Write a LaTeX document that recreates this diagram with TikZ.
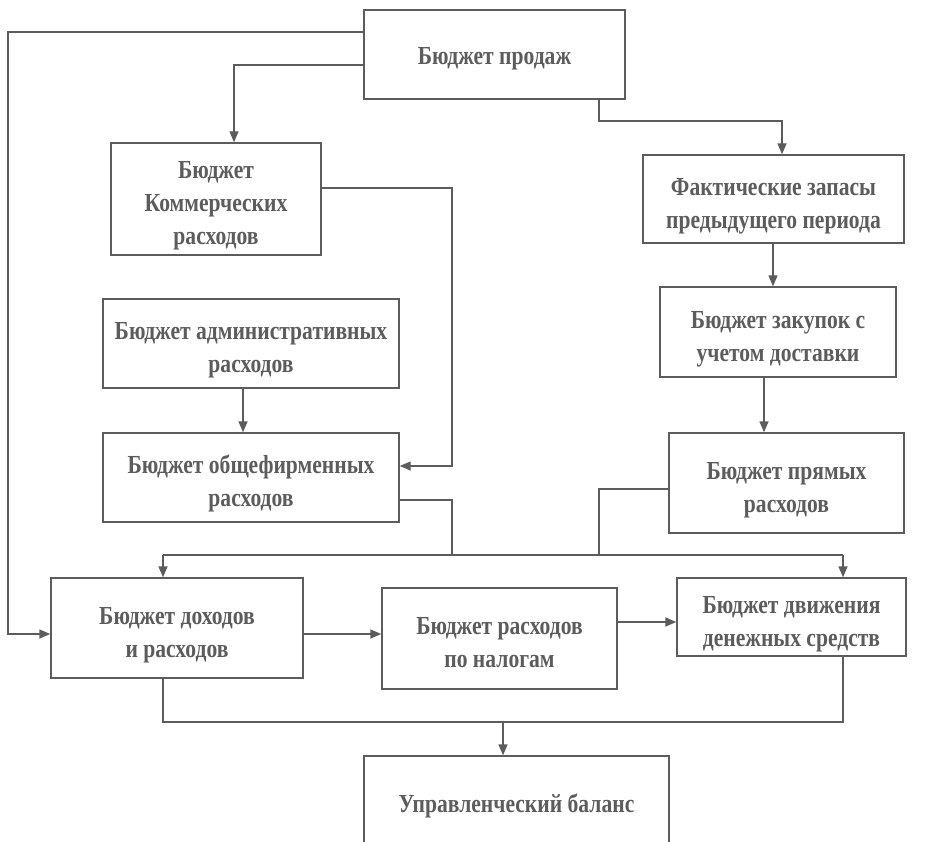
\documentclass[tikz,border=0pt]{standalone}
\usepackage{fontspec}
\setmainfont{Liberation Serif}[FakeStretch=0.83]
\usetikzlibrary{arrows.meta}
\definecolor{ink}{HTML}{5C5C5C}
% centred lines, lowered a little inside the block without changing its size
\newcommand{\blktext}[2][-6pt]{\raisebox{#1}[\height][\depth]{\begin{tabular}{@{}c@{}}#2\end{tabular}}}
\begin{document}
\begin{tikzpicture}[x=1pt,y=-1pt,
  blk/.style={draw=ink,line width=1.4pt,inner sep=0pt,
    text=ink,font=\fontsize{26}{33}\selectfont\bfseries},
  wire/.style={draw=ink,line width=1.4pt},
  arr/.style={wire,-{Triangle[length=11pt,width=9pt]}}]
\clip (0,0) rectangle (934,842);
% budget blocks
\node[blk,minimum width=261pt,minimum height=89pt] (sales) at (494.5,54.5) {\blktext[-3pt]{Бюджет продаж}};
\node[blk,minimum width=210pt,minimum height=112pt] (comm) at (216,199) {\blktext{Бюджет\\Коммерческих\\расходов}};
\node[blk,minimum width=296pt,minimum height=89pt] (admin) at (251,343.5) {\blktext{Бюджет административных\\расходов}};
\node[blk,minimum width=296pt,minimum height=89pt] (obshe) at (251,477.5) {\blktext{Бюджет общефирменных\\расходов}};
\node[blk,minimum width=261pt,minimum height=88pt] (fact) at (773.5,199) {\blktext{Фактические запасы\\предыдущего периода}};
\node[blk,minimum width=236pt,minimum height=90pt] (zak) at (778,332) {\blktext{Бюджет закупок с\\учетом доставки}};
\node[blk,minimum width=235pt,minimum height=100pt] (direct) at (786.5,483) {\blktext{Бюджет прямых\\расходов}};
\node[blk,minimum width=252pt,minimum height=100pt] (income) at (177,628) {\blktext{Бюджет доходов\\и расходов}};
\node[blk,minimum width=235pt,minimum height=101pt] (tax) at (499.5,638.5) {\blktext{Бюджет расходов\\по налогам}};
\node[blk,minimum width=229pt,minimum height=78pt] (dds) at (791.5,617) {\blktext{Бюджет движения\\денежных средств}};
\node[blk,minimum width=305pt,minimum height=94pt] (bal) at (516.5,803) {\blktext[-3pt]{Управленческий баланс}};
% connectors
\draw[arr] (sales.west |- 0,32) -- (8,32) -- (8,634) -- (income.west |- 0,634);
\draw[arr] (sales.west |- 0,65) -- (234,65) -- (comm.north -| 234,0);
\draw[arr] (comm.east |- 0,188) -- (452,188) -- (452,466) -- (obshe.east |- 0,466);
\draw[arr] (admin.south -| 243,0) -- (obshe.north -| 243,0);
\draw[wire] (obshe.east |- 0,500) -- (452,500) -- (452,555);
\coordinate (busL) at (163,555);
\coordinate (busR) at (843,555);
\draw[wire] (busL) -- (busR);
\draw[arr] (busL) -- (income.north -| busL);
\draw[arr] (busR) -- (dds.north -| busR);
\draw[wire] (direct.west |- 0,489) -- (599,489) -- (599,555);
\draw[arr] (sales.south -| 599,0) -- (599,121) -- (782,121) -- (fact.north -| 782,0);
\draw[arr] (fact.south -| 773,0) -- (zak.north -| 773,0);
\draw[arr] (zak.south -| 764,0) -- (direct.north -| 764,0);
\draw[arr] (income.east |- 0,634) -- (tax.west |- 0,634);
\draw[arr] (tax.east |- 0,622) -- (dds.west |- 0,622);
\draw[wire] (income.south -| 163,0) -- (163,722) -- (843,722) -- (dds.south -| 843,0);
\coordinate (join) at (503,722);
\draw[arr] (join) -- (bal.north -| join);
\end{tikzpicture}
\end{document}
